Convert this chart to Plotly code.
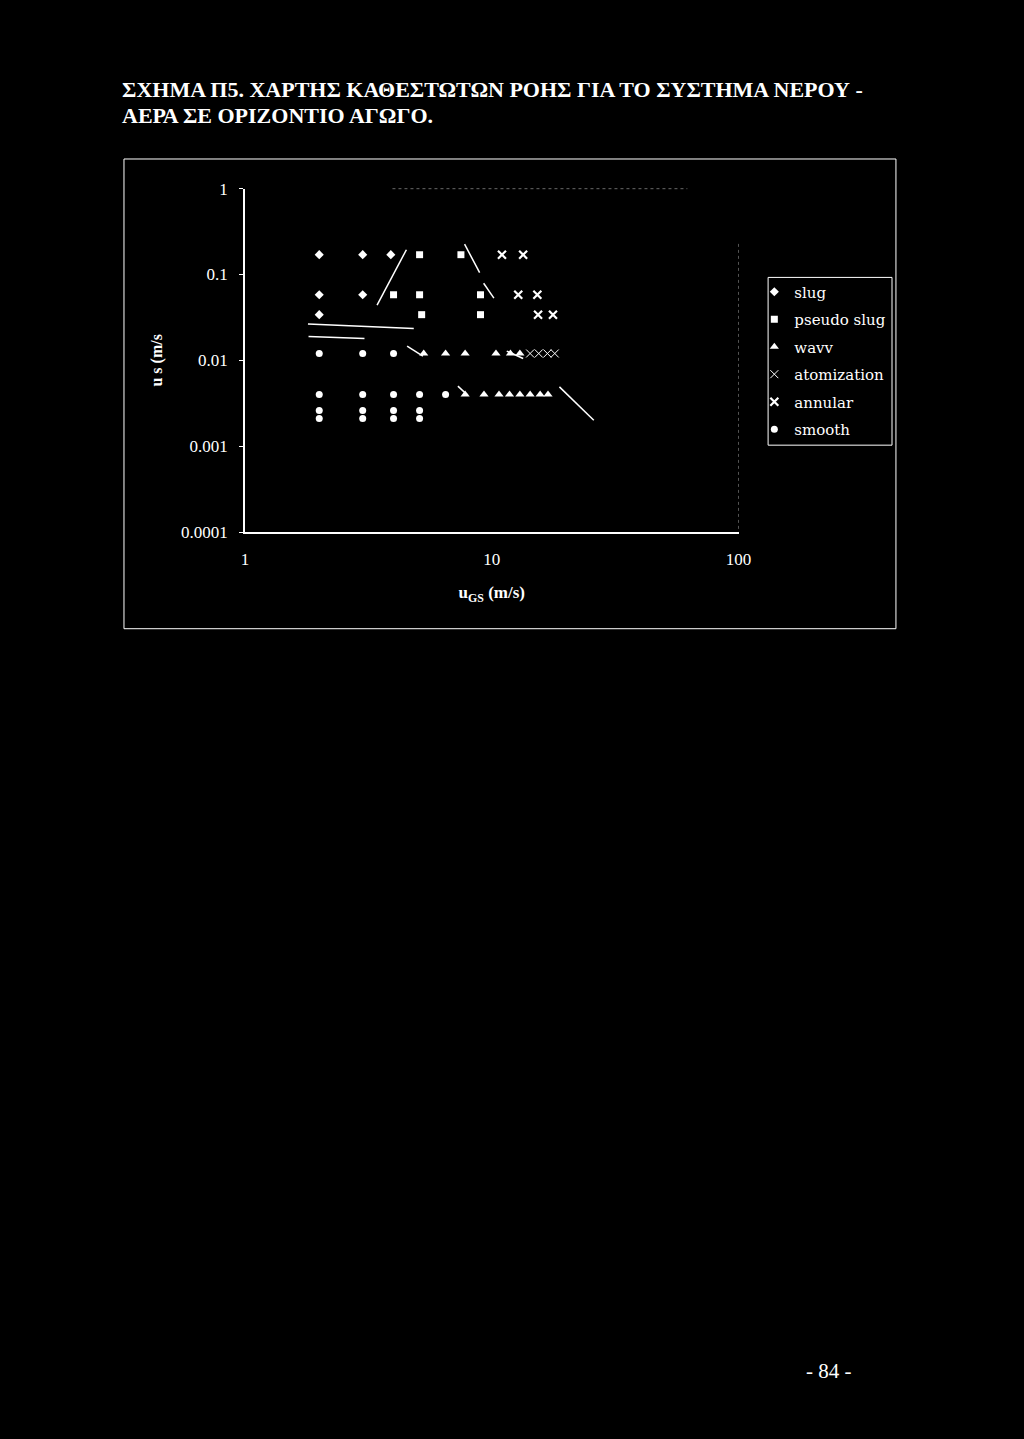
import plotly.graph_objects as go

# ---- data ----
slug_x = [2.0, 3.0, 3.9, 2.0, 3.0, 2.0]
slug_y = [0.17, 0.17, 0.17, 0.058, 0.058, 0.034]

pseudo_x = [5.1, 7.5, 4.0, 5.1, 9.0, 5.2, 9.0]
pseudo_y = [0.17, 0.17, 0.058, 0.058, 0.058, 0.034, 0.034]

wavy_x = [5.3, 6.5, 7.8, 10.4, 11.9, 13.0, 7.8, 9.3, 10.7, 11.8, 13.0, 14.3, 15.7, 16.9]
wavy_y = [0.012] * 6 + [0.004] * 8

atom_x = [14.3, 15.5, 16.8, 18.0]
atom_y = [0.012, 0.012, 0.012, 0.012]

annular_x = [11.0, 13.4, 12.8, 15.3, 15.4, 17.7]
annular_y = [0.17, 0.17, 0.058, 0.058, 0.034, 0.034]

smooth_x = [2.0, 3.0, 4.0, 2.0, 3.0, 4.0, 5.1, 6.5, 2.0, 3.0, 4.0, 5.1, 2.0, 3.0, 4.0, 5.1]
smooth_y = [0.012] * 3 + [0.004] * 5 + [0.0026] * 4 + [0.0021] * 4

# transition boundaries drawn by hand (x pairs, y pairs)
bound_x = [[3.43, 4.51], [7.76, 8.93], [9.27, 10.2], [1.80, 4.83], [1.81, 3.05],
           [4.54, 5.26], [11.5, 13.4], [7.29, 8.0], [18.8, 25.9]]
bound_y = [[0.044, 0.194], [0.225, 0.105], [0.079, 0.053], [0.0264, 0.0235], [0.0189, 0.018],
           [0.0146, 0.0112], [0.0128, 0.0105], [0.005, 0.0039], [0.0049, 0.002]]

# faint plot border pieces
top_border_x = [3.96, 62.0]
top_border_y = [1.0, 1.0]
right_border_x = [100.0, 100.0]
right_border_y = [0.227, 0.0001]

x_ticks = [1, 10, 100]
x_ticktext = ["1", "10", "100"]
y_ticks = [0.0001, 0.001, 0.01, 0.1, 1]
y_ticktext = ["0.0001", "0.001", "0.01", "0.1", "1"]

title_line1 = "ΣΧΗΜΑ Π5. ΧΑΡΤΗΣ ΚΑΘΕΣΤΩΤΩΝ ΡΟΗΣ ΓΙΑ ΤΟ ΣΥΣΤΗΜΑ ΝΕΡΟΥ -"
title_line2 = "ΑΕΡΑ ΣΕ ΟΡΙΖΟΝΤΙΟ ΑΓΩΓΟ."
page_text = "- 84 -"

W, H = 1024, 1439
SERIF = "Liberation Serif"
LEG_FONT = "DejaVu Serif"

fig = go.Figure()

for bx, by in zip(bound_x, bound_y):
    fig.add_trace(go.Scatter(x=bx, y=by, mode="lines", line=dict(color="white", width=1.5),
                             showlegend=False, hoverinfo="skip"))

fig.add_trace(go.Scatter(x=top_border_x, y=top_border_y, mode="lines",
                         line=dict(color="#bbbbbb", width=1, dash="dot"),
                         showlegend=False, hoverinfo="skip", cliponaxis=False))
fig.add_trace(go.Scatter(x=right_border_x, y=right_border_y, mode="lines",
                         line=dict(color="#999999", width=1, dash="dot"),
                         showlegend=False, hoverinfo="skip", cliponaxis=False))

series = [
    ("slug", slug_x, slug_y, dict(symbol="diamond", size=7, color="white")),
    ("pseudo slug", pseudo_x, pseudo_y, dict(symbol="square", size=7, color="white")),
    ("wavv", wavy_x, wavy_y, dict(symbol="triangle-up", size=8, color="white")),
    ("atomization", atom_x, atom_y, dict(symbol="x-thin-open", size=8, color="white",
                                         line=dict(color="white", width=1))),
    ("annular", annular_x, annular_y, dict(symbol="x-thin-open", size=8, color="white",
                                           line=dict(color="white", width=2.2))),
    ("smooth", smooth_x, smooth_y, dict(symbol="circle", size=7, color="white")),
]
for i, (name, xs, ys, mk) in enumerate(series):
    fig.add_trace(go.Scatter(x=xs, y=ys, mode="markers", name=name, marker=mk,
                             legendgroup=str(i)))

x0, x1 = 245 / W, 747 / W
y0, y1 = 1 - 530 / H, 1 - 182 / H

fig.update_layout(
    width=W, height=H,
    margin=dict(l=0, r=0, t=0, b=0),
    paper_bgcolor="black", plot_bgcolor="black",
    font=dict(family=SERIF, color="white", size=15),
    showlegend=True,
    legend=dict(x=763 / W, y=1 - 270 / H, xanchor="left", yanchor="top",
                bgcolor="rgba(0,0,0,0)", borderwidth=0,
                font=dict(family=LEG_FONT, size=15, color="white"),
                tracegroupgap=5, itemwidth=30),
    xaxis=dict(type="log", range=[0, 2], domain=[x0, x1], showgrid=False, zeroline=False,
               showline=True, linecolor="white", linewidth=2, ticks="",
               tickvals=x_ticks, ticktext=x_ticktext, ticklabelstandoff=11,
               tickfont=dict(family=SERIF, size=17, color="white"),
               title=dict(text="<b>u<sub>GS</sub> (m/s)</b>", standoff=18,
                          font=dict(family=SERIF, size=17, color="white"))),
    yaxis=dict(type="log", range=[-4, 0], domain=[y0, y1], showgrid=False, zeroline=False,
               showline=True, linecolor="white", linewidth=1.5, ticks="outside", ticklen=4,
               tickcolor="white", tickvals=y_ticks, ticktext=y_ticktext,
               ticklabelstandoff=8,
               tickfont=dict(family=SERIF, size=17, color="white"),
               title=dict(text="<b>u s (m/s</b>", standoff=14,
                          font=dict(family=SERIF, size=16, color="white"))),
)

# legend box (drawn to match the scanned frame)
fig.add_shape(type="rect", xref="paper", yref="paper",
              x0=777 / W, x1=903 / W, y0=1 - 442 / H, y1=1 - 272 / H,
              line=dict(color="white", width=1))

# outer chart frame
fig.add_shape(type="rect", xref="paper", yref="paper",
              x0=122 / W, x1=907 / W, y0=1 - 628 / H, y1=1 - 152 / H,
              line=dict(color="white", width=1))

for txt, yc in ((title_line1, 82), (title_line2, 108)):
    fig.add_annotation(text="<b>" + txt + "</b>", xref="paper", yref="paper",
                       x=118 / W, y=1 - yc / H, xanchor="left", yanchor="middle",
                       align="left", showarrow=False,
                       font=dict(family=SERIF, size=22, color="white"))
fig.add_annotation(text=page_text, xref="paper", yref="paper",
                   x=839 / W, y=1 - 1380 / H, xanchor="center", yanchor="middle",
                   showarrow=False, font=dict(family=SERIF, size=21, color="white"))

fig.write_html("out.html", config={"displayModeBar": False},
               post_script="document.body.style.margin='0';"
                           "document.body.style.background='black';")
